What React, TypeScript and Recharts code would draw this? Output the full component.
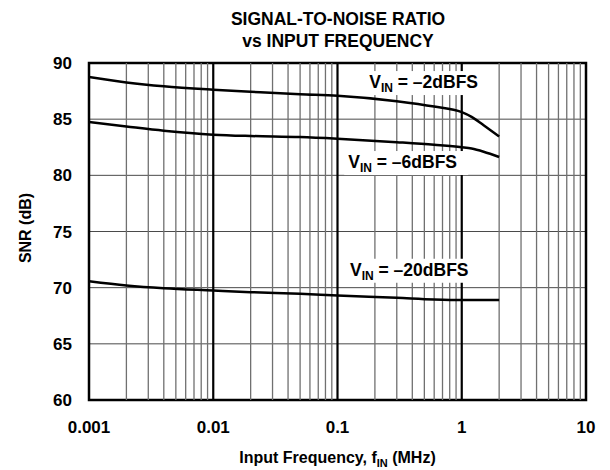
import { CartesianGrid, Line, LineChart, ReferenceArea, ReferenceDot, ReferenceLine, XAxis, YAxis } from "recharts";

const freqMHz = [0.001, 0.002, 0.004, 0.01, 0.02, 0.05, 0.1, 0.3, 0.6, 1, 1.2, 1.5, 2];
const snrMinus2 = [88.75, 88.27, 87.92, 87.62, 87.44, 87.22, 87.09, 86.6, 86.12, 85.62, 85.2, 84.45, 83.46];
const snrMinus6 = [84.75, 84.35, 83.97, 83.62, 83.5, 83.41, 83.26, 82.95, 82.72, 82.5, 82.38, 82.1, 81.63];
const snrMinus20 = [70.57, 70.2, 69.95, 69.75, 69.6, 69.45, 69.3, 69.1, 68.95, 68.9, 68.9, 68.9, 68.9];

const xTicks = [0.001, 0.01, 0.1, 1, 10];
const yTicks = [60, 65, 70, 75, 80, 85, 90];
const decadeLines = [0.01, 0.1, 1];
const minorLines = [
	0.002, 0.003, 0.004, 0.005, 0.006, 0.007, 0.008, 0.009,
	0.02, 0.03, 0.04, 0.05, 0.06, 0.07, 0.08, 0.09,
	0.2, 0.3, 0.4, 0.5, 0.6, 0.7, 0.8, 0.9,
	2, 3, 4, 5, 6, 7, 8, 9,
];

const curveLabels = [
	{ key: "m2", text: " = –2dBFS", f: 0.18, snr: 87.77, w: 124 },
	{ key: "m6", text: " = –6dBFS", f: 0.122, snr: 80.65, w: 124 },
	{ key: "m20", text: " = –20dBFS", f: 0.126, snr: 71.06, w: 134 },
];

const data = freqMHz.map((f, i) => ({
	f,
	m2: snrMinus2[i],
	m6: snrMinus6[i],
	m20: snrMinus20[i],
}));

const FONT = '"Liberation Sans", Arial, sans-serif';

function VinLabel({ cx, cy, text, w }: any) {
	return (
		<g>
			<rect x={cx - 4} y={cy - 17} width={w} height={24} fill="#fff" />
			<text x={cx} y={cy} fontFamily={FONT} fontWeight="bold" fontSize={17.5} fill="#000">
				V
				<tspan dy={4} fontSize={12}>IN</tspan>
				<tspan dy={-4}>{text}</tspan>
			</text>
		</g>
	);
}

function XLabel({ viewBox }: any) {
	const cx = viewBox.x + viewBox.width / 2;
	return (
		<text x={cx} y={463} textAnchor="middle" fontFamily={FONT} fontWeight="bold" fontSize={16} fill="#000">
			Input Frequency, f
			<tspan dy={4} fontSize={11}>IN</tspan>
			<tspan dy={-4}> (MHz)</tspan>
		</text>
	);
}

function YLabel() {
	return (
		<text
			x={31}
			y={228}
			transform="rotate(-90 31 228)"
			textAnchor="middle"
			fontFamily={FONT}
			fontWeight="bold"
			fontSize={16}
			fill="#000"
		>
			SNR (dB)
		</text>
	);
}

export default function App() {
	const tick = { fontSize: 17, fontWeight: "bold", fill: "#000", fontFamily: FONT };
	return (
		<div style={{ position: "absolute", top: 0, left: 0, width: 610, height: 470, background: "#fff" }}>
			<div
				style={{
					position: "absolute",
					top: 8,
					left: 0,
					width: 676,
					textAlign: "center",
					fontFamily: FONT,
					fontWeight: "bold",
					fontSize: 17.5,
					lineHeight: "22px",
				}}
			>
				SIGNAL-TO-NOISE RATIO
				<br />
				vs INPUT FREQUENCY
			</div>
			<LineChart width={610} height={470} data={data} margin={{ top: 63, right: 24, left: 0, bottom: 0 }}>
				<CartesianGrid horizontal vertical={false} stroke="#4a4a4a" strokeWidth={1} />
				{minorLines.map((v) => (
					<ReferenceLine key={v} x={v} stroke="#707070" strokeWidth={1.3} />
				))}
				{decadeLines.map((v) => (
					<ReferenceLine key={v} x={v} stroke="#000" strokeWidth={2.2} />
				))}
				<XAxis
					dataKey="f"
					type="number"
					scale="log"
					domain={[0.001, 10]}
					ticks={xTicks}
					tickFormatter={(v) => String(v)}
					tick={tick}
					tickLine={false}
					axisLine={false}
					tickMargin={15}
					height={70}
					allowDataOverflow
					label={<XLabel />}
				/>
				<YAxis
					type="number"
					domain={[60, 90]}
					ticks={yTicks}
					tick={tick}
					tickLine={false}
					axisLine={false}
					tickMargin={11}
					width={89}
					label={<YLabel />}
				/>
				<Line type="monotone" dataKey="m2" stroke="#000" strokeWidth={2.5} dot={false} isAnimationActive={false} />
				<Line type="monotone" dataKey="m6" stroke="#000" strokeWidth={2.5} dot={false} isAnimationActive={false} />
				<Line type="monotone" dataKey="m20" stroke="#000" strokeWidth={2.5} dot={false} isAnimationActive={false} />
				<ReferenceArea x1={0.001} x2={10} y1={60} y2={90} fill="none" stroke="#000" strokeWidth={2.5} ifOverflow="visible" />
				{curveLabels.map((l) => (
					<ReferenceDot
						key={l.key}
						x={l.f}
						y={l.snr}
						r={0}
						ifOverflow="visible"
						shape={(p: any) => <VinLabel cx={p.cx} cy={p.cy} text={l.text} w={l.w} />}
					/>
				))}
			</LineChart>
		</div>
	);
}
